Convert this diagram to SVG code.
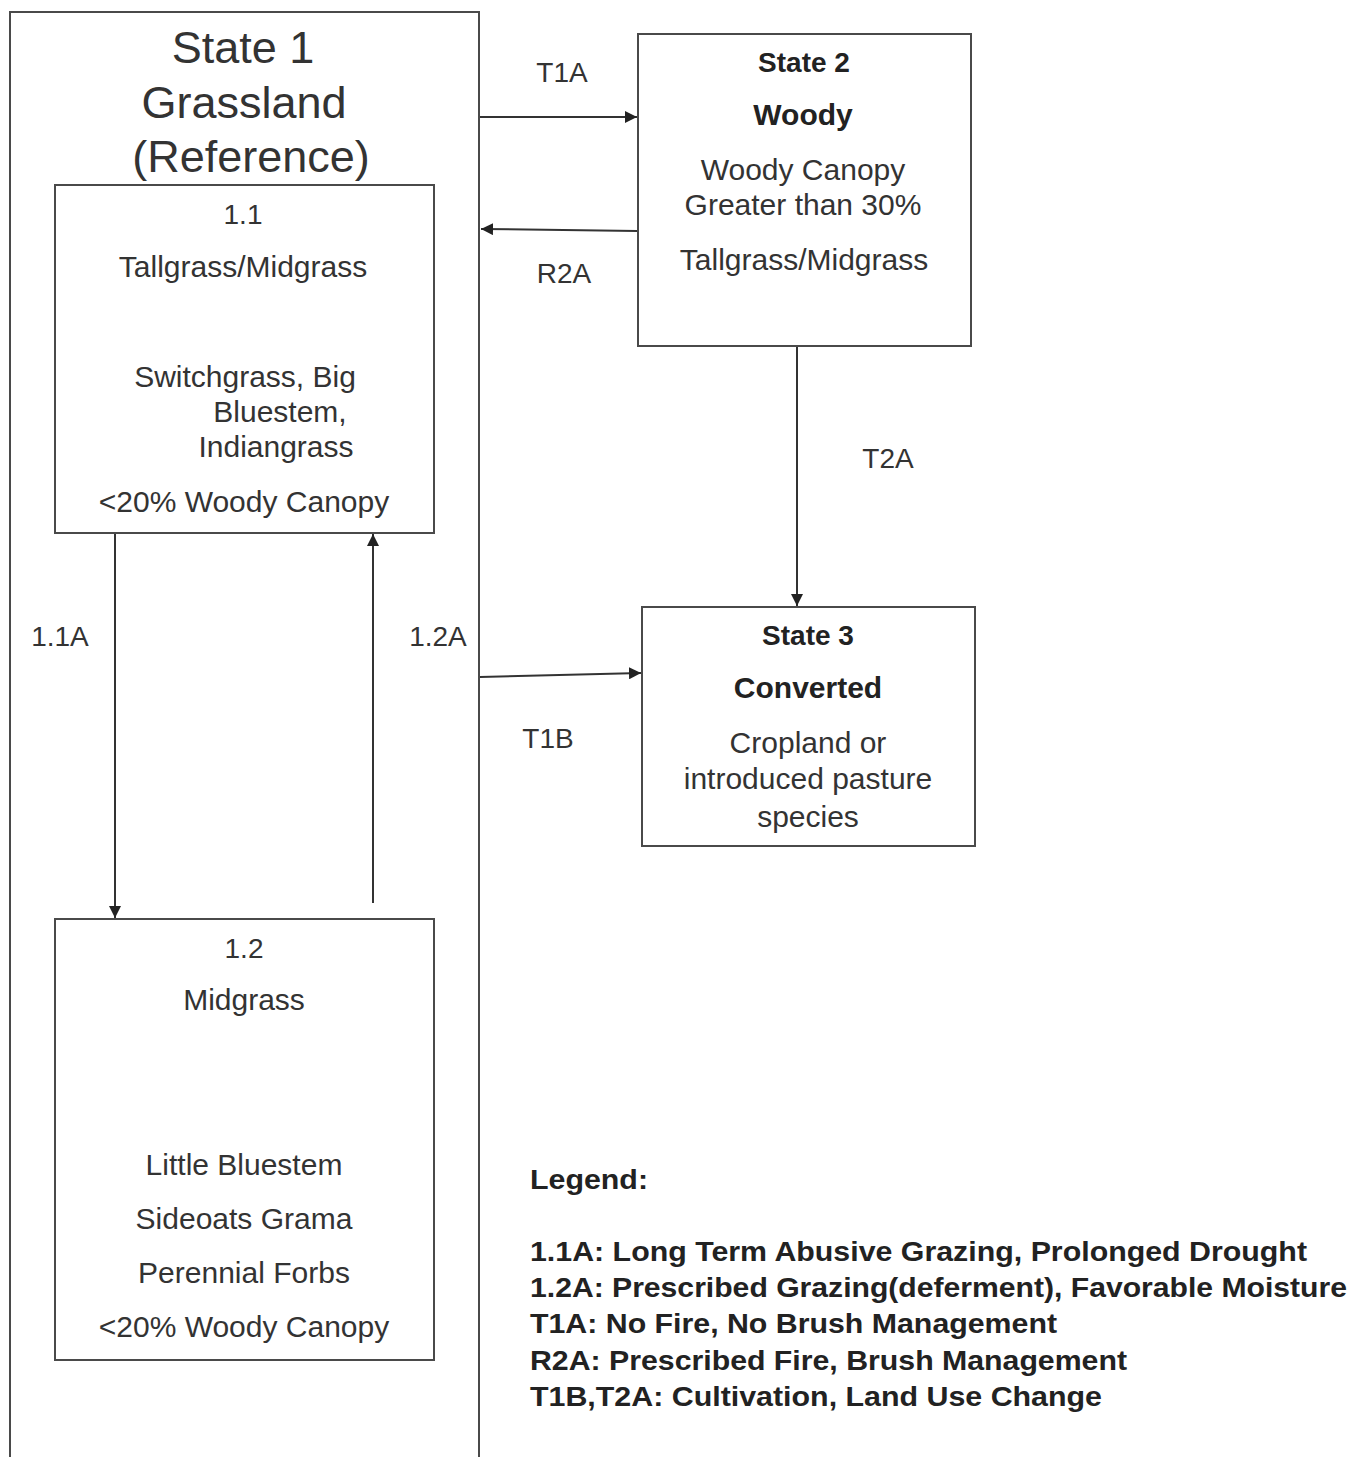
<svg xmlns="http://www.w3.org/2000/svg" width="1367" height="1457" viewBox="0 0 1367 1457">
<style>
.box{fill:none;stroke:#4a4a4a;stroke-width:2}
.t{font-family:"Liberation Sans",Arial,sans-serif;fill:#333;text-anchor:middle}
.b{font-weight:bold;fill:#222}
.lg{font-family:"Liberation Sans",Arial,sans-serif;font-weight:bold;fill:#222;font-size:28px}
.c{stroke:#333;stroke-width:2;fill:none;marker-end:url(#ah)}
</style>
<defs>
<marker id="ah" viewBox="0 0 10 10" refX="10" refY="5" markerWidth="6" markerHeight="6" markerUnits="strokeWidth" orient="auto">
<path d="M0,0 L10,5 L0,10 z" fill="#222"/>
</marker>
</defs>
<rect width="1367" height="1457" fill="#fff"/>
<g id="state1">
<rect class="box" x="10" y="12" width="469" height="1470"/>
<text class="t" x="243" y="63" font-size="45">State 1</text>
<text class="t" x="244" y="118" font-size="45">Grassland</text>
<text class="t" x="251" y="172" font-size="45">(Reference)</text>
</g>
<g id="n11">
<rect class="box" x="55" y="185" width="379" height="348"/>
<text class="t" x="243" y="224" font-size="28">1.1</text>
<text class="t" x="243" y="277" font-size="30">Tallgrass/Midgrass</text>
<text class="t" x="245" y="387" font-size="30">Switchgrass, Big</text>
<text class="t" x="280" y="422" font-size="30">Bluestem,</text>
<text class="t" x="276" y="457" font-size="30">Indiangrass</text>
<text class="t" x="244" y="512" font-size="30">&lt;20% Woody Canopy</text>
</g>
<g id="n12">
<rect class="box" x="55" y="919" width="379" height="441"/>
<text class="t" x="244" y="958" font-size="28">1.2</text>
<text class="t" x="244" y="1010" font-size="30">Midgrass</text>
<text class="t" x="244" y="1175" font-size="30">Little Bluestem</text>
<text class="t" x="244" y="1229" font-size="30">Sideoats Grama</text>
<text class="t" x="244" y="1283" font-size="30">Perennial Forbs</text>
<text class="t" x="244" y="1337" font-size="30">&lt;20% Woody Canopy</text>
</g>
<g id="state2">
<rect class="box" x="638" y="34" width="333" height="312"/>
<text class="t b" x="804" y="72" font-size="28">State 2</text>
<text class="t b" x="803" y="125" font-size="30">Woody</text>
<text class="t" x="803" y="180" font-size="30">Woody Canopy</text>
<text class="t" x="803" y="215" font-size="30">Greater than 30%</text>
<text class="t" x="804" y="270" font-size="30">Tallgrass/Midgrass</text>
</g>
<g id="state3">
<rect class="box" x="642" y="607" width="333" height="239"/>
<text class="t b" x="808" y="645" font-size="28">State 3</text>
<text class="t b" x="808" y="698" font-size="30">Converted</text>
<text class="t" x="808" y="753" font-size="30">Cropland or</text>
<text class="t" x="808" y="789" font-size="30">introduced pasture</text>
<text class="t" x="808" y="827" font-size="30">species</text>
</g>
<g id="connectors">
<line class="c" x1="480" y1="117" x2="637" y2="117"/>
<line class="c" x1="637" y1="231" x2="481" y2="229"/>
<line class="c" x1="797" y1="347" x2="797" y2="606"/>
<line class="c" x1="480" y1="677" x2="641" y2="673"/>
<line class="c" x1="115" y1="534" x2="115" y2="918"/>
<line class="c" x1="373" y1="903" x2="373" y2="534"/>
<text class="t" x="562" y="82" font-size="28">T1A</text>
<text class="t" x="564" y="283" font-size="28">R2A</text>
<text class="t" x="888" y="468" font-size="28">T2A</text>
<text class="t" x="60" y="646" font-size="28">1.1A</text>
<text class="t" x="438" y="646" font-size="28">1.2A</text>
<text class="t" x="548" y="748" font-size="28">T1B</text>
</g>
<g id="legend">
<text class="lg" x="530" y="1189" textLength="118" lengthAdjust="spacingAndGlyphs">Legend:</text>
<text class="lg" x="530" y="1261" textLength="777" lengthAdjust="spacingAndGlyphs">1.1A: Long Term Abusive Grazing, Prolonged Drought</text>
<text class="lg" x="530" y="1297" textLength="817" lengthAdjust="spacingAndGlyphs">1.2A: Prescribed Grazing(deferment), Favorable Moisture</text>
<text class="lg" x="530" y="1333" textLength="527" lengthAdjust="spacingAndGlyphs">T1A: No Fire, No Brush Management</text>
<text class="lg" x="530" y="1370" textLength="597" lengthAdjust="spacingAndGlyphs">R2A: Prescribed Fire, Brush Management</text>
<text class="lg" x="530" y="1406" textLength="572" lengthAdjust="spacingAndGlyphs">T1B,T2A: Cultivation, Land Use Change</text>
</g>
</svg>
